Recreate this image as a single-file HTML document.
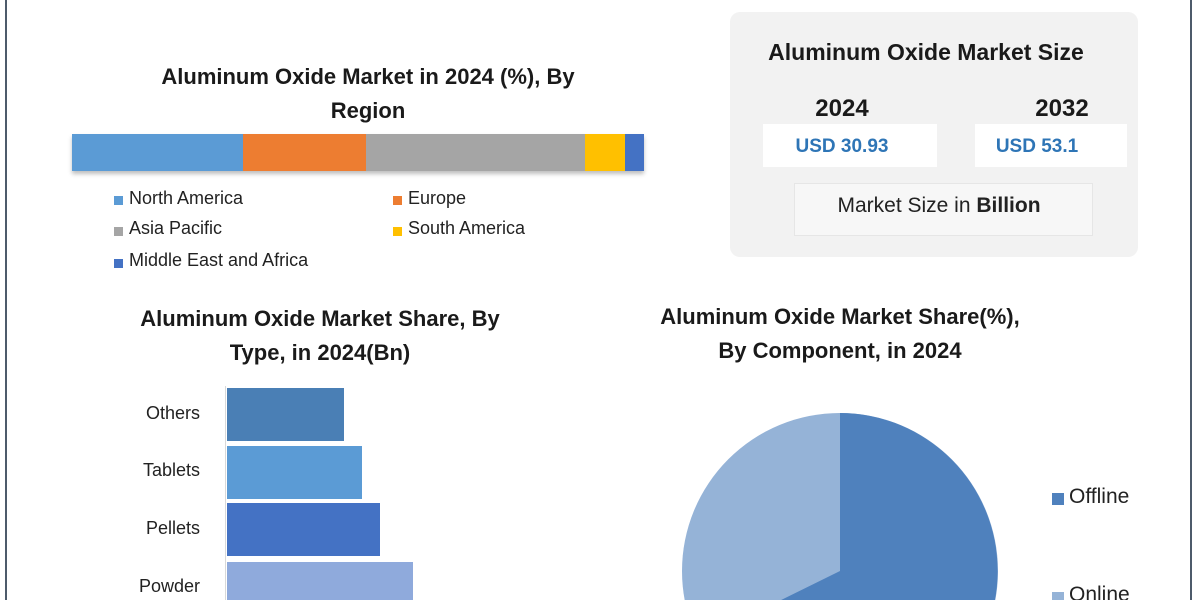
<!DOCTYPE html>
<html><head><meta charset="utf-8"><style>
html,body{margin:0;width:1200px;height:600px;overflow:hidden}
body{background:#fff;font-family:"Liberation Sans",sans-serif;position:relative}
div,span{position:absolute}
.t{font-weight:bold;color:#1a1a1a;text-align:center;font-size:22px;line-height:34px;white-space:nowrap}
.lg{font-size:18px;color:#222;white-space:nowrap}
.sw{width:9px;height:9px}
.lab{font-size:18px;color:#222;text-align:right;width:100px;left:100px}
</style></head><body>
<div style="left:5px;top:0;width:2px;height:600px;background:#4d5b6b"></div>
<div style="left:1190px;top:0;width:2px;height:600px;background:#4d5b6b"></div>

<div class="t" style="left:90px;top:60px;width:556px">Aluminum Oxide Market in 2024 (%), By<br>Region</div>
<div style="left:72px;top:134px;width:572px;height:37px;box-shadow:0 3px 4px rgba(0,0,0,0.25)">
<span style="left:0;top:0;width:171px;height:37px;background:#5b9bd5"></span>
<span style="left:171px;top:0;width:123px;height:37px;background:#ed7d31"></span>
<span style="left:294px;top:0;width:219px;height:37px;background:#a5a5a5"></span>
<span style="left:513px;top:0;width:40px;height:37px;background:#ffc000"></span>
<span style="left:553px;top:0;width:19px;height:37px;background:#4472c4"></span>
</div>
<div class="sw" style="left:114px;top:196px;background:#5b9bd5"></div><div class="lg" style="left:129px;top:188px">North America</div>
<div class="sw" style="left:393px;top:196px;background:#ed7d31"></div><div class="lg" style="left:408px;top:188px">Europe</div>
<div class="sw" style="left:114px;top:227px;background:#a5a5a5"></div><div class="lg" style="left:129px;top:218px">Asia Pacific</div>
<div class="sw" style="left:393px;top:227px;background:#ffc000"></div><div class="lg" style="left:408px;top:218px">South America</div>
<div class="sw" style="left:114px;top:259px;background:#4472c4"></div><div class="lg" style="left:129px;top:250px">Middle East and Africa</div>

<div style="left:730px;top:12px;width:408px;height:245px;background:#f2f2f2;border-radius:10px"></div>
<div class="t" style="left:730px;top:35px;width:392px;font-size:23px">Aluminum Oxide Market Size</div>
<div class="t" style="left:797px;top:92px;width:90px;font-size:24px">2024</div>
<div class="t" style="left:1017px;top:92px;width:90px;font-size:24px">2032</div>
<div style="left:763px;top:124px;width:174px;height:43px;background:#fff"></div>
<div style="left:975px;top:124px;width:152px;height:43px;background:#fff"></div>
<div style="left:763px;top:136px;width:158px;text-align:center;font-weight:bold;color:#2e75b6;font-size:19px">USD 30.93</div>
<div style="left:975px;top:136px;width:124px;text-align:center;font-weight:bold;color:#2e75b6;font-size:19px">USD 53.1</div>
<div style="left:794px;top:183px;width:297px;height:51px;background:#f7f7f7;border:1px solid #e6e6e6"></div>
<div style="left:794px;top:194px;width:290px;text-align:center;font-size:21px;color:#222">Market Size in <b>Billion</b></div>

<div class="t" style="left:90px;top:302px;width:460px">Aluminum Oxide Market Share, By<br>Type, in 2024(Bn)</div>
<div style="left:225px;top:386px;width:1px;height:214px;background:#d9d9d9"></div>
<div style="left:227px;top:388px;width:117px;height:53px;background:#4a7fb5"></div>
<div style="left:227px;top:446px;width:135px;height:53px;background:#5b9bd5"></div>
<div style="left:227px;top:503px;width:153px;height:53px;background:#4472c4"></div>
<div style="left:227px;top:562px;width:186px;height:38px;background:#8faadc"></div>
<div class="lab" style="top:403px">Others</div>
<div class="lab" style="top:460px">Tablets</div>
<div class="lab" style="top:518px">Pellets</div>
<div class="lab" style="top:576px">Powder</div>

<div class="t" style="left:660px;top:300px;width:360px">Aluminum Oxide Market Share(%),<br>By Component, in 2024</div>
<svg style="position:absolute;left:0;top:0" width="1200" height="600">
<circle cx="840" cy="571" r="158" fill="#95b3d7"/>
<path d="M840 571 L840 413 A158 158 0 1 1 698 641 Z" fill="#4f81bd"/>
</svg>
<div class="sw" style="left:1052px;top:493px;width:12px;height:12px;background:#4f81bd"></div><div style="left:1069px;top:485px;font-size:21px;color:#222">Offline</div>
<div class="sw" style="left:1052px;top:592px;width:12px;height:8px;background:#95b3d7"></div><div style="left:1069px;top:583px;font-size:21px;color:#222;height:17px;overflow:hidden">Online</div>
</body></html>
